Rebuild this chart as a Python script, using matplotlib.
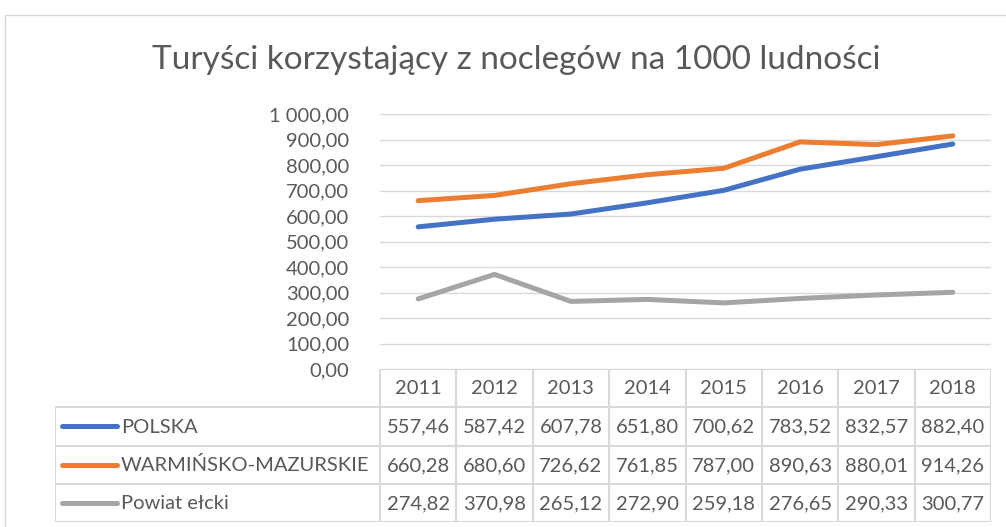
import matplotlib.pyplot as plt
from matplotlib.patches import Rectangle
from matplotlib.ticker import FuncFormatter

years = ['2011', '2012', '2013', '2014', '2015', '2016', '2017', '2018']
series_names = ['POLSKA', 'WARMIŃSKO-MAZURSKIE', 'Powiat ełcki']
polska = [557.46, 587.42, 607.78, 651.80, 700.62, 783.52, 832.57, 882.40]
warminsko = [660.28, 680.60, 726.62, 761.85, 787.00, 890.63, 880.01, 914.26]
elcki = [274.82, 370.98, 265.12, 272.90, 259.18, 276.65, 290.33, 300.77]
colors = ['#4472C4', '#ED7D31', '#A5A5A5']
values = [polska, warminsko, elcki]

plt.rcParams['font.family'] = ['Lato', 'DejaVu Sans']
TXT = '#595959'
GRID = '#d9d9d9'
W, H = 1006, 527
FS = 14.5


def pl_num(v, pos=None):
    s = f'{v:,.2f}'
    return s.replace(',', ' ').replace('.', ',')


fig = plt.figure(figsize=(W / 100, H / 100), dpi=100)

# outer chart border
fig.patches.append(Rectangle((5 / W, -0.1), 1.2, (H - 15) / H + 0.1,
                             transform=fig.transFigure, fill=False,
                             edgecolor=GRID, linewidth=1))

fig.text(516 / W, 1 - 60 / H, 'Turyści korzystający z noclegów na 1000 ludności',
         ha='center', va='center', fontsize=24, color=TXT)

# plot area
x0, x1 = 380, 991
ax = fig.add_axes([x0 / W, 1 - 369 / H, (x1 - x0) / W, (369 - 114) / H])
xs = list(range(len(years)))
for vals, c in zip(values, colors):
    ax.plot(xs, vals, color=c, linewidth=3.6, solid_capstyle='round',
            solid_joinstyle='round')
ax.set_xlim(-0.5, len(years) - 0.5)
ax.set_ylim(0, 1000)
ax.set_yticks(range(0, 1001, 100))
ax.yaxis.set_major_formatter(FuncFormatter(pl_num))
ax.set_xticks([])
ax.grid(axis='y', color=GRID, linewidth=1)
ax.set_axisbelow(True)
for s in ax.spines.values():
    s.set_visible(False)
ax.tick_params(axis='y', length=0, pad=22, labelsize=FS, labelcolor=TXT)

# data table
t0 = 55
col_w = (x1 - x0) / len(years)
leg_w = (x0 - t0) / col_w
tab = fig.add_axes([t0 / W, 1 - 522 / H, (x1 - t0) / W, (522 - 369) / H])
tab.set_xlim(-0.5 - leg_w, len(years) - 0.5)
tab.set_ylim(4, 0)
tab.axis('off')
lw = 1.5
# horizontal lines
tab.plot([-0.5, len(years) - 0.5], [0, 0], color=GRID, lw=lw)
for r in [1, 2, 3, 4]:
    tab.plot([-0.5 - leg_w, len(years) - 0.5], [r, r], color=GRID, lw=lw)
# vertical lines
tab.plot([-0.5 - leg_w] * 2, [1, 4], color=GRID, lw=lw)
for c in range(len(years) + 1):
    tab.plot([c - 0.5] * 2, [0, 4], color=GRID, lw=lw)
for i, y in enumerate(years):
    tab.text(i, 0.52, y, ha='center', va='center', fontsize=FS, color=TXT)
for r, (name, vals, c) in enumerate(zip(series_names, values, colors), start=1):
    lx = -0.5 - leg_w
    tab.plot([lx + 7 / col_w, lx + 62 / col_w], [r + 0.5] * 2, color=c,
             lw=3.6, solid_capstyle='round')
    tab.text(lx + 66 / col_w, r + 0.52, name, ha='left', va='center',
             fontsize=FS, color=TXT)
    for i, v in enumerate(vals):
        tab.text(i, r + 0.52, pl_num(v), ha='center', va='center',
                 fontsize=FS, color=TXT)

fig.savefig('out.png', dpi=100)
